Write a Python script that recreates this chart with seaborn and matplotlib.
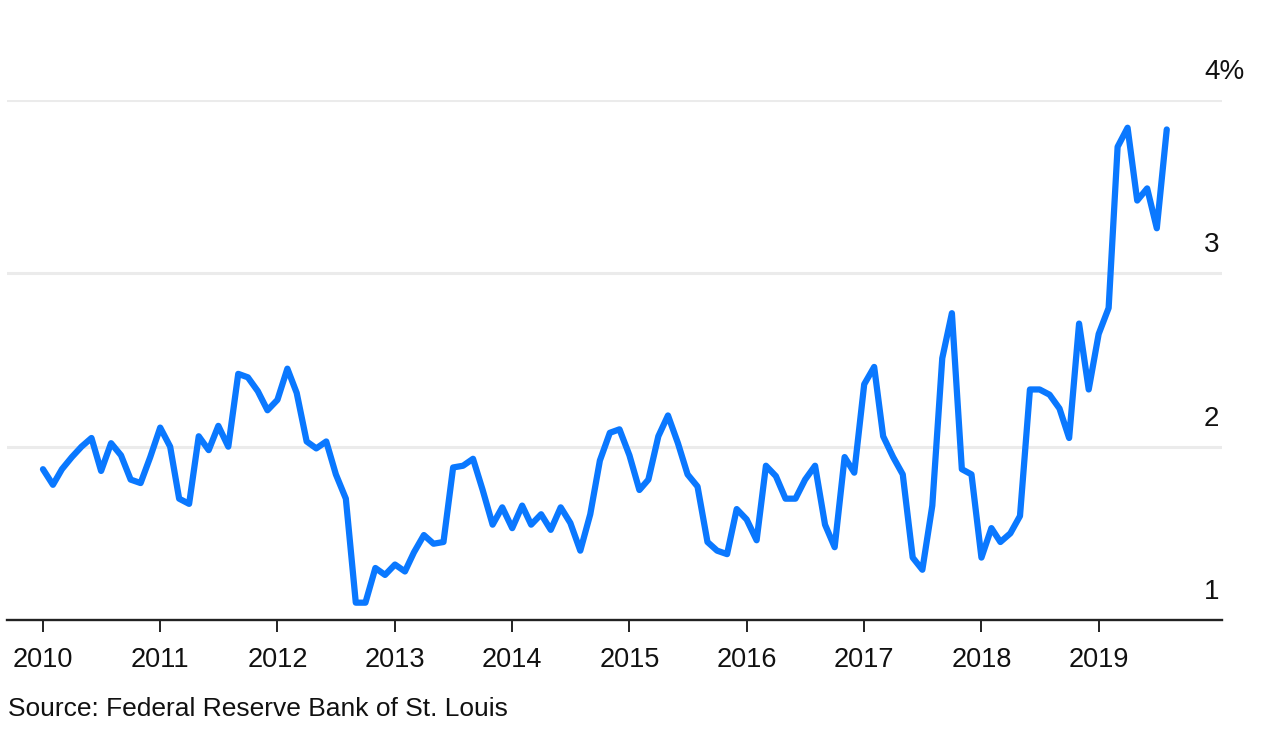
import pandas as pd
import seaborn as sns
import matplotlib.pyplot as plt
import matplotlib.dates as mdates
import matplotlib.transforms as mtransforms

# Monthly values, Jan 2010 - Aug 2019 (%)
start_month = '2010-01-01'
values_2010 = [1.87, 1.78, 1.87, 1.94, 2.00, 2.05, 1.86, 2.02, 1.95, 1.81, 1.79, 1.94]
values_2011 = [2.11, 2.00, 1.70, 1.67, 2.06, 1.98, 2.12, 2.00, 2.42, 2.40, 2.32, 2.21]
values_2012 = [2.27, 2.45, 2.31, 2.03, 1.99, 2.03, 1.84, 1.70, 1.10, 1.10, 1.30, 1.26]
values_2013 = [1.32, 1.28, 1.39, 1.49, 1.44, 1.45, 1.88, 1.89, 1.93, 1.75, 1.55, 1.65]
values_2014 = [1.53, 1.66, 1.55, 1.61, 1.52, 1.65, 1.56, 1.40, 1.61, 1.92, 2.08, 2.10]
values_2015 = [1.95, 1.75, 1.81, 2.06, 2.18, 2.02, 1.84, 1.77, 1.45, 1.40, 1.38, 1.64]
values_2016 = [1.58, 1.46, 1.89, 1.83, 1.70, 1.70, 1.81, 1.89, 1.55, 1.42, 1.94, 1.85]
values_2017 = [2.36, 2.46, 2.06, 1.94, 1.84, 1.36, 1.29, 1.66, 2.51, 2.77, 1.87, 1.84]
values_2018 = [1.36, 1.53, 1.45, 1.50, 1.60, 2.33, 2.33, 2.30, 2.22, 2.05, 2.71, 2.33]
values_2019 = [2.65, 2.80, 3.73, 3.84, 3.42, 3.49, 3.26, 3.83]

year_ticks = list(range(2010, 2020))
y_gridlines = [2, 3, 4]
y_labels = {1: '1', 2: '2', 3: '3', 4: '4%'}
source_text = 'Source: Federal Reserve Bank of St. Louis'

values = (values_2010 + values_2011 + values_2012 + values_2013 + values_2014
          + values_2015 + values_2016 + values_2017 + values_2018 + values_2019)
df = pd.DataFrame({
    'Date': pd.date_range(start_month, periods=len(values), freq='MS'),
    'Value': values,
})

sns.set_style('white')
plt.rcParams['font.family'] = ['Liberation Sans', 'DejaVu Sans']

fig = plt.figure(figsize=(12.86, 7.35), dpi=100)
ax = fig.add_axes([7 / 1286, 1 - 620 / 735, (1222 - 7) / 1286, 520 / 735])

sns.lineplot(data=df, x='Date', y='Value', ax=ax, color='#0a78ff',
             linewidth=4.5, solid_joinstyle='round', solid_capstyle='round',
             zorder=3)

ax.set_xlim(pd.Timestamp('2009-09-11'), pd.Timestamp('2020-01-20'))
ax.set_ylim(1, 4)

# gridlines
ax.set_yticks(y_gridlines)
ax.yaxis.grid(True, color='#ebebeb', linewidth=2.2)
ax.tick_params(axis='y', left=False, right=False, labelleft=False, labelright=False)

# x axis
ax.set_xticks([pd.Timestamp(f'{y}-01-01') for y in year_ticks])
ax.xaxis.set_major_formatter(mdates.DateFormatter('%Y'))
ax.tick_params(axis='x', bottom=True, direction='out', length=8.5, width=1.4,
               color='#222222', labelsize=19.5, pad=11, labelcolor='#111111')

for side in ['top', 'left', 'right']:
    ax.spines[side].set_visible(False)
ax.spines['bottom'].set_color('#222222')
ax.spines['bottom'].set_linewidth(1.7)

ax.set_xlabel('')
ax.set_ylabel('')

# y labels above the gridlines, on the right
trans = mtransforms.blended_transform_factory(ax.transAxes, ax.transData)
trans = mtransforms.offset_copy(trans, fig=fig, x=0, y=28, units='dots')
for val, lab in y_labels.items():
    ax.text((1204 - 7) / (1222 - 7), val, lab, transform=trans, ha='left',
            va='center', fontsize=20, color='#111111', clip_on=False)

fig.text(8 / 1286, 1 - 709 / 735, source_text, ha='left', va='center',
         fontsize=19, color='#111111')

fig.savefig('out.png', dpi=100)
